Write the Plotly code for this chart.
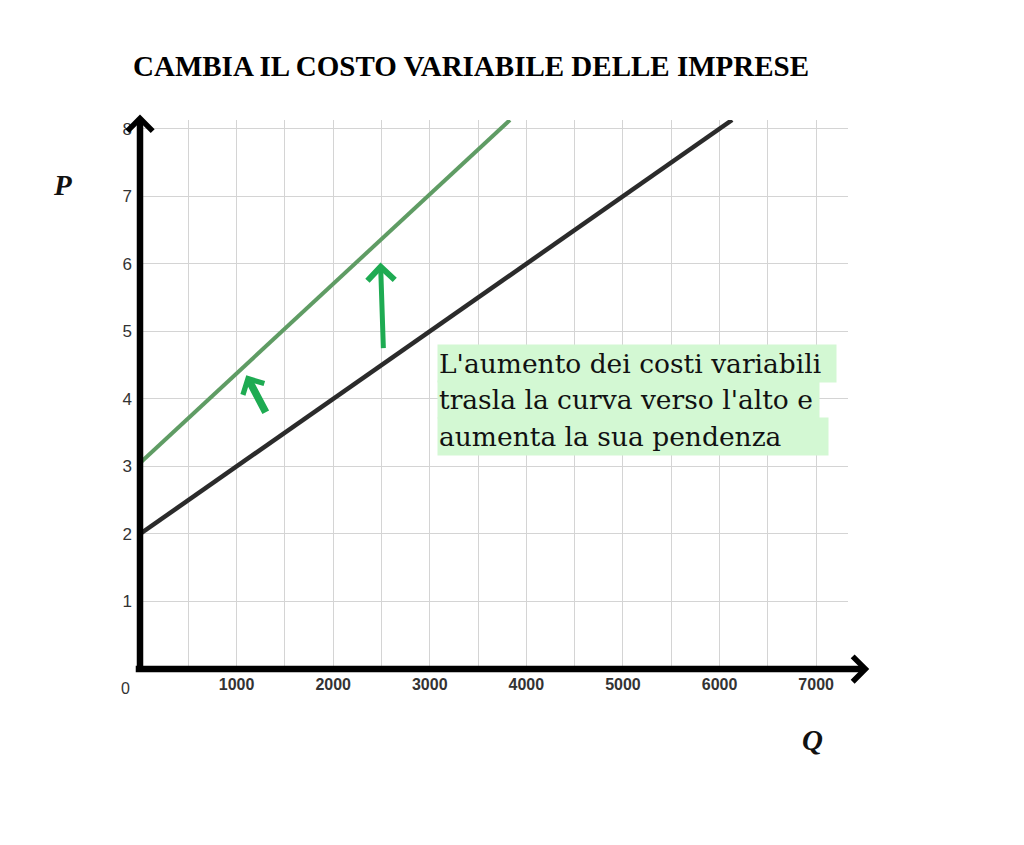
import plotly.graph_objects as go

# ---- data ----
q_original = [0, 6130]
p_original = [2.0, 8.13]
q_shifted = [0, 3830]
p_shifted = [3.05, 8.13]

x_tickvals = [1000, 2000, 3000, 4000, 5000, 6000, 7000]
y_tickvals = [1, 2, 3, 4, 5, 6, 7, 8]

title_text = "CAMBIA IL COSTO VARIABILE DELLE IMPRESE"
note_lines = ["L'aumento dei costi variabili",
              "trasla la curva verso l'alto e",
              "aumenta la sua pendenza"]

# arrow (tail, tip) positions in data units
straight_arrow = dict(tail=(2520, 4.73), tip=(2490, 6.02))
curved_arrow = dict(tail=(1310, 3.78), tip=(1100, 4.35))

X_MAX = 7330
Y_MAX = 8.13

GREEN_LINE = "#5f9c64"
BLACK_LINE = "#2b2b2b"
ARROW_GREEN = "#1eab52"
NOTE_BG = "#d3f8d3"

fig = go.Figure()
fig.add_trace(go.Scatter(x=q_original, y=p_original, mode="lines",
                         line=dict(color=BLACK_LINE, width=4.5),
                         hoverinfo="skip", showlegend=False, cliponaxis=False))
fig.add_trace(go.Scatter(x=q_shifted, y=p_shifted, mode="lines",
                         line=dict(color=GREEN_LINE, width=4),
                         hoverinfo="skip", showlegend=False, cliponaxis=False))

annotations = []
# axis arrows (drawn beyond plot area)
annotations.append(dict(xref="paper", yref="paper", x=1.03, y=0, ax=-735, ay=0,
                        axref="pixel", ayref="pixel", text="", showarrow=True,
                        arrowhead=4, arrowsize=0.75, arrowwidth=6.5, arrowcolor="black"))
annotations.append(dict(xref="paper", yref="paper", x=0, y=1.01, ax=0, ay=555,
                        axref="pixel", ayref="pixel", text="", showarrow=True,
                        arrowhead=4, arrowsize=0.75, arrowwidth=6.5, arrowcolor="black"))

# green arrows
for arr, w, s in ((straight_arrow, 5, 1.05), (curved_arrow, 7.5, 0.62)):
    annotations.append(dict(xref="x", yref="y", axref="x", ayref="y",
                            x=arr["tip"][0], y=arr["tip"][1],
                            ax=arr["tail"][0], ay=arr["tail"][1],
                            text="", showarrow=True, arrowhead=4,
                            arrowsize=s, arrowwidth=w, arrowcolor=ARROW_GREEN))

# origin label
annotations.append(dict(xref="paper", yref="paper", x=-0.02, y=0, yshift=-19,
                        xanchor="center", yanchor="middle",
                        text="0", showarrow=False,
                        font=dict(family="Liberation Sans, Arial", size=16, color="#333333")))

# axis titles
annotations.append(dict(xref="paper", yref="paper", x=-0.11, y=0.882,
                        xanchor="center", yanchor="middle",
                        text="<b><i>P</i></b>", showarrow=False,
                        font=dict(family="Liberation Serif, serif", size=29, color="#111111")))
annotations.append(dict(xref="paper", yref="paper", x=0.95, y=-0.130,
                        xanchor="center", yanchor="middle",
                        text="<b><i>Q</i></b>", showarrow=False,
                        font=dict(family="Liberation Serif, serif", size=29, color="#111111")))

# note box lines
note_y = [0.557, 0.490, 0.424]
note_w = [396, 379, 388]
for txt, yy, ww in zip(note_lines, note_y, note_w):
    annotations.append(dict(xref="paper", yref="paper", x=0.4195, y=yy,
                            xanchor="left", yanchor="middle", text=txt,
                            align="left", width=ww, height=35,
                            showarrow=False, bgcolor=NOTE_BG, borderpad=1,
                            font=dict(family="DejaVu Serif, serif", size=26.5, color="#111111")))

# title
annotations.append(dict(xref="paper", yref="paper", x=0.468, y=1.098,
                        xanchor="center", yanchor="middle",
                        text="<b>" + title_text + "</b>", showarrow=False,
                        font=dict(family="Liberation Serif, serif", size=29, color="black")))

fig.update_layout(
    width=1016, height=837,
    margin=dict(l=132, r=176, t=112, b=176),
    paper_bgcolor="white", plot_bgcolor="white",
    annotations=annotations,
    xaxis=dict(range=[0, X_MAX], tickvals=x_tickvals,
               ticktext=["<b>%d</b>" % v for v in x_tickvals],
               showgrid=True, gridcolor="#d4d4d4", gridwidth=1,
               minor=dict(dtick=500, tick0=0, showgrid=True, gridcolor="#d4d4d4", gridwidth=1),
               zeroline=False, showline=False, ticks="",
               ticklabelstandoff=4,
               tickfont=dict(family="Liberation Sans, Arial", size=16, color="#333333"),
               fixedrange=True),
    yaxis=dict(range=[0, Y_MAX], tickvals=y_tickvals,
               showgrid=True, gridcolor="#d4d4d4", gridwidth=1,
               zeroline=False, showline=False, ticks="",
               ticklabelstandoff=7,
               tickfont=dict(family="Liberation Sans, Arial", size=17, color="#333333"),
               fixedrange=True),
)

fig.write_html("out.html")
